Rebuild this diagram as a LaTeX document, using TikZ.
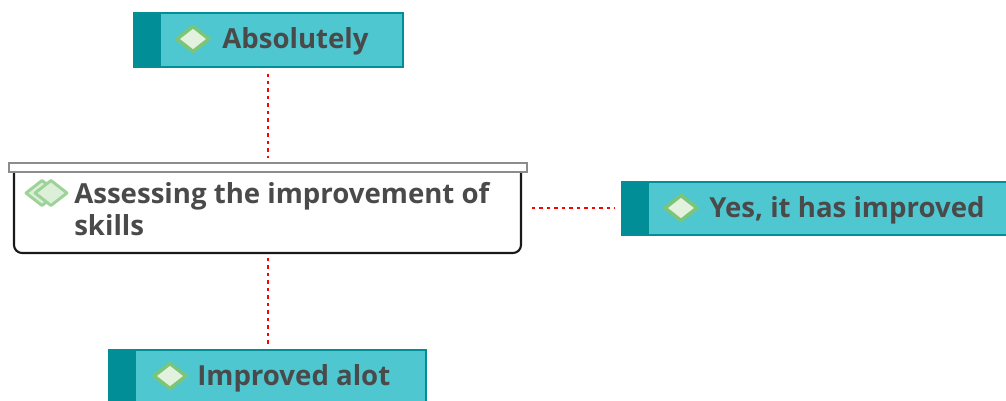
\documentclass[tikz,border=0pt]{standalone}
\usepackage{fontspec}
\setmainfont{Open Sans}
\newfontfamily\semifont{Open Sans Bold}
\definecolor{tealfill}{HTML}{4FC7D1}
\definecolor{tealdark}{HTML}{028E97}
\definecolor{txt}{HTML}{4A4A4A}
\definecolor{dgreen}{HTML}{7CC576}
\definecolor{dfill}{HTML}{E3F1DF}
\definecolor{dfill2}{HTML}{DCEFD8}
\tikzset{
  x=0.75pt,y=-0.75pt,
  answerbox/.style={draw=tealdark,line width=1.5pt,fill=tealfill,inner sep=0pt,anchor=north west},
  band/.style={fill=tealdark,inner sep=0pt,anchor=north west},
  gem/.style={draw=dgreen,line width=2.6pt,fill=dfill,line join=round},
  gemdouble/.style={gem,draw=dgreen!75,fill=dfill2,line width=2.2pt},
  lbl/.style={text=txt,font=\fontsize{20.7}{24}\semifont,inner sep=0pt,anchor=base west},
  link/.style={draw=red,line width=2.05pt,dash pattern=on 2.6pt off 3pt},
}
\newcommand{\gemat}[3][gem]{\draw[#1] (#2+16,#3) -- (#2,#3-12.5) -- (#2-16,#3) -- (#2,#3+12.5) -- cycle;}
\begin{document}
\begin{tikzpicture}
\useasboundingbox (0,0) rectangle (1006,400);
\clip (0,0) rectangle (1006,400);
% main
\draw[black!90,line width=1.6pt,fill=white,rounded corners=6pt] (14,168) -- (14,253) -- (521,253) -- (521,168);
\node[draw=black!45,line width=1.6pt,fill=white,minimum width=518pt*0.75,minimum height=9.5pt*0.75,inner sep=0pt,anchor=north west] (head) at (8,161.5) {};
\coordinate (mainS) at (268,254);
\coordinate (mainE) at (522,208);
\gemat[gemdouble]{42}{193}
\gemat[gemdouble]{51}{193}
\node[lbl] (mainA) at (74,203) {Assessing the improvement of};
\node[lbl] (mainB) at (74,235) {skills};
% absolutely
\node[answerbox,minimum width=269pt*0.75,minimum height=53.5pt*0.75] (abs) at (133,12) {};
\node[band,minimum width=28pt*0.75,minimum height=53.5pt*0.75] (absb) at (133,12) {};
\gemat{193}{39}
\node[lbl] (absl) at (222,48.5) {Absolutely};
% yes
\node[answerbox,minimum width=400pt*0.75,minimum height=53pt*0.75] (yes) at (621,181) {};
\node[band,minimum width=28pt*0.75,minimum height=53pt*0.75] (yesb) at (621,181) {};
\gemat{681}{208}
\node[lbl] (yesl) at (709,217.5) {Yes, it has improved};
% improved
\node[answerbox,minimum width=317pt*0.75,minimum height=70pt*0.75] (imp) at (108,349) {};
\node[band,minimum width=28pt*0.75,minimum height=70pt*0.75] (impb) at (108,349) {};
\gemat{170}{376}
\node[lbl] (impl) at (197,385.5) {Improved alot};
% links
\draw[link,shorten <=4.5pt,shorten >=3pt] (abs.south -| head.north) -- (head.north);
\draw[link,shorten <=3pt,shorten >=3pt] (mainS) -- (imp.north -| mainS);
\draw[link,shorten <=7.5pt,shorten >=4.5pt] (mainE) -- (yesb.west |- mainE);
\end{tikzpicture}
\end{document}
